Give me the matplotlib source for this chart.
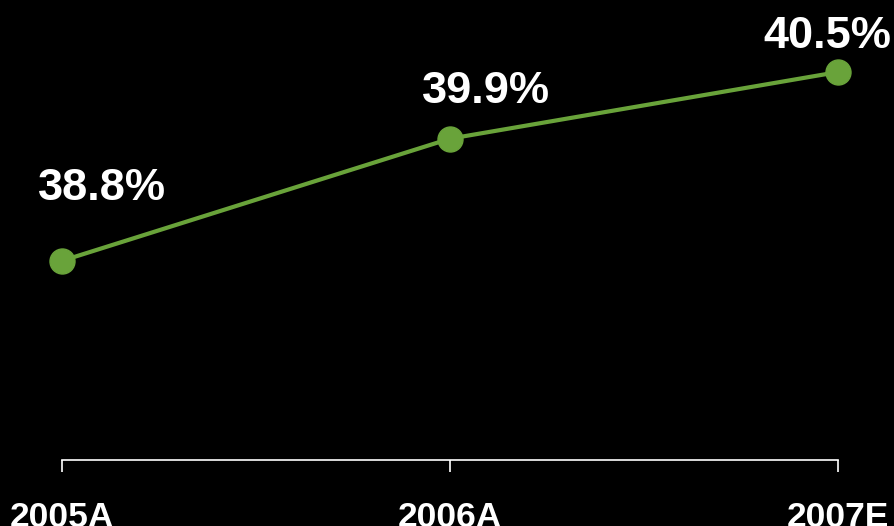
import matplotlib
matplotlib.use("Agg")
import matplotlib.pyplot as plt

years = ["2005A", "2006A", "2007E"]
margins = [38.8, 39.9, 40.5]
labels = ["38.8%", "39.9%", "40.5%"]
# label offsets in points (dx, dy) from each marker
offsets = [(29, 44), (26, 26), (-8, 17)]

GREEN = "#69A33A"

fig = plt.figure(figsize=(8.95, 5.26), dpi=100)
fig.patch.set_facecolor("black")
ax = fig.add_axes([62 / 895, 66 / 526, (838 - 62) / 895, 460 / 526])
ax.set_facecolor("black")

x = list(range(len(years)))
ax.plot(x, margins, color=GREEN, linewidth=3, marker="o", markersize=18,
        markerfacecolor=GREEN, markeredgecolor=GREEN, clip_on=False, zorder=3)

for xi, yi, lab, (dx, dy) in zip(x, margins, labels, offsets):
    ax.annotate(lab, (xi, yi), xytext=(dx, dy), textcoords="offset points",
                ha="center", va="baseline", color="white", fontsize=32.5,
                fontweight="bold", family="Liberation Sans", annotation_clip=False)

ax.set_xlim(0, 2)
ax.set_ylim(37.006, 41.149)
ax.set_xticks(x)
ax.set_xticklabels(years)
ax.set_yticks([])
for s in ["top", "right", "left"]:
    ax.spines[s].set_visible(False)
ax.spines["bottom"].set_color("white")
ax.spines["bottom"].set_linewidth(1.2)
ax.tick_params(axis="x", colors="white", length=8.5, width=1.2, pad=21)
for t in ax.get_xticklabels():
    t.set_fontsize(25.5)
    t.set_fontweight("bold")
    t.set_family("Liberation Sans")
    t.set_color("white")

fig.savefig("out.png", dpi=100, facecolor="black")
